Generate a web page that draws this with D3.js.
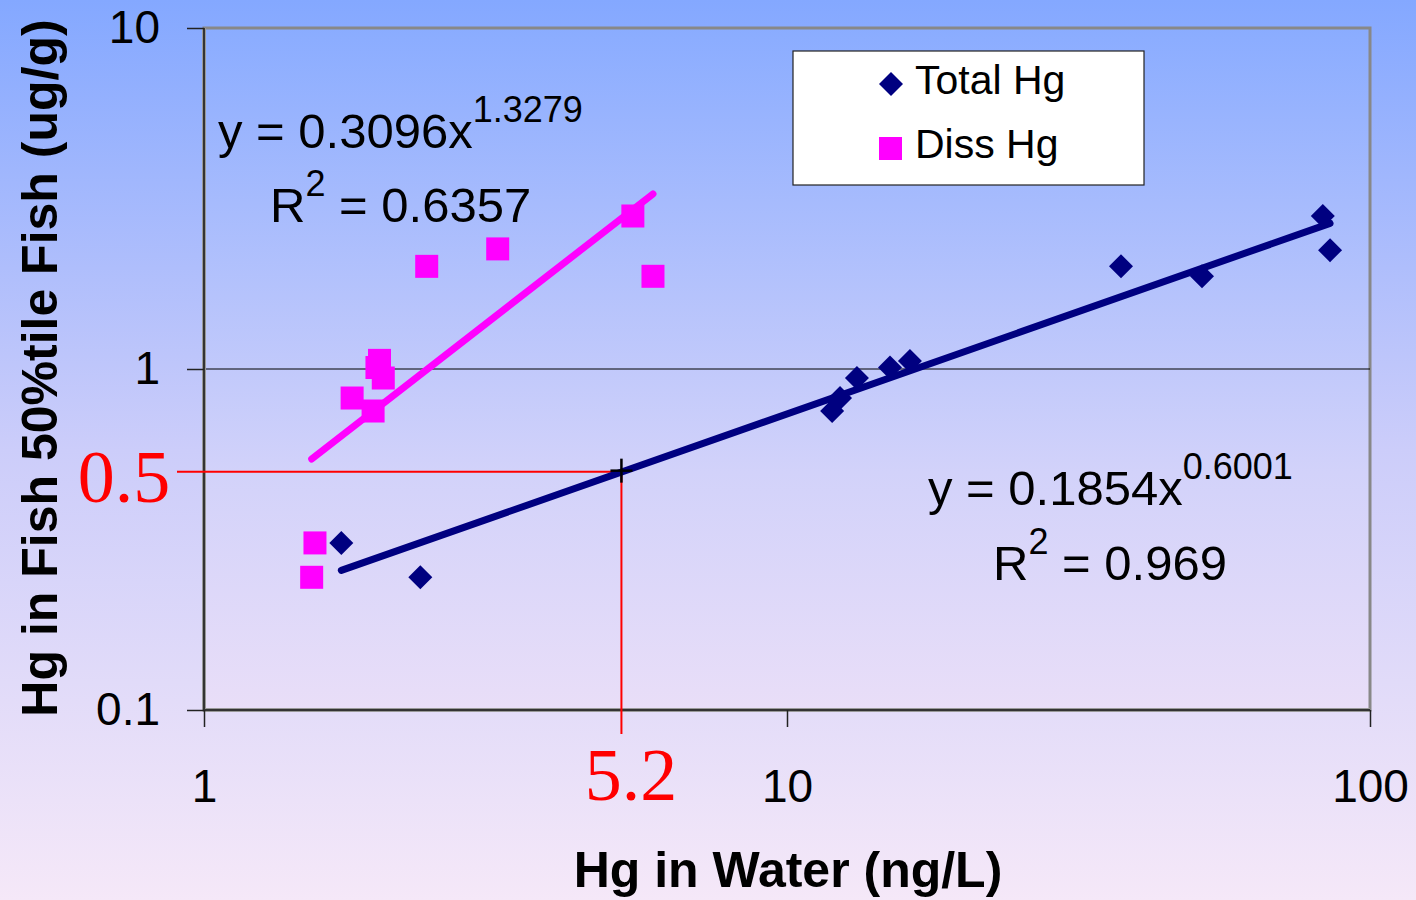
<!DOCTYPE html>
<html><head><meta charset="utf-8">
<script src="https://cdn.jsdelivr.net/npm/d3@7"></script>
<style>html,body{margin:0;padding:0;overflow:hidden;background:#fff}svg{display:block}</style>
</head><body>
<svg id="chart" width="1416" height="900"></svg>
<script>
// ---- data ----
const totalX = [1.72, 2.35, 11.95, 12.33, 13.18, 15.02, 16.25, 37.4, 51.5, 83.0, 85.4];
const totalY = [0.309, 0.245, 0.753, 0.822, 0.941, 1.01, 1.056, 2.0, 1.87, 2.81, 2.23];
const dissX  = [1.55, 1.53, 1.795, 1.95, 1.98, 2.00, 2.03, 2.41, 3.19, 5.44, 5.89];
const dissY  = [0.309, 0.245, 0.822, 0.753, 1.01, 1.06, 0.941, 2.0, 2.25, 2.81, 1.87];
const seriesNames = ["Total Hg", "Diss Hg"];
const fitCoef = [0.1854, 0.3096];
const fitExp  = [0.6001, 1.3279];
const fitR2   = ["0.969", "0.6357"];
const xTicks = [1, 10, 100];
const yTicks = [0.1, 1, 10];
const markX = [5.2];
const markY = [0.5];
const markLabels = ["5.2", "0.5"];

// ---- layout ----
const svg = d3.select("#chart");
const W = 1416, H = 900;
const L = 204, R = 1370, T = 28, B = 710;

const defs = svg.append("defs");
const bg = defs.append("linearGradient").attr("id","bg").attr("x1",0).attr("y1",0).attr("x2",0).attr("y2",1);
bg.append("stop").attr("offset",0).attr("stop-color","#84A8FF");
bg.append("stop").attr("offset",0.5).attr("stop-color","#CCCDFA");
bg.append("stop").attr("offset",1).attr("stop-color","#F5E8F8");
const pg = defs.append("linearGradient").attr("id","pg").attr("x1",0).attr("y1",0).attr("x2",0).attr("y2",1);
pg.append("stop").attr("offset",0).attr("stop-color","#8AACFF");
pg.append("stop").attr("offset",0.65).attr("stop-color","#D2D2FA");
pg.append("stop").attr("offset",1).attr("stop-color","#E9DEF8");

svg.append("rect").attr("width",W).attr("height",H).attr("fill","url(#bg)");

const x = d3.scaleLog().domain([1,100]).range([L,R]);
const y = d3.scaleLog().domain([0.1,10]).range([B,T]);

// plot area
svg.append("rect").attr("x",L).attr("y",T).attr("width",R-L).attr("height",B-T)
  .attr("fill","url(#pg)").attr("stroke","#888").attr("stroke-width",3);

// gridline at 1
svg.append("line").attr("x1",L).attr("x2",R).attr("y1",y(1)).attr("y2",y(1))
  .attr("stroke","#000").attr("stroke-width",1);

// left & bottom axis lines
svg.append("line").attr("x1",L).attr("x2",L).attr("y1",T).attr("y2",B+1).attr("stroke","#999").attr("stroke-width",4);
svg.append("line").attr("x1",L-1).attr("x2",R).attr("y1",B).attr("y2",B).attr("stroke","#999").attr("stroke-width",4);
svg.append("line").attr("x1",L).attr("x2",L).attr("y1",T).attr("y2",B).attr("stroke","#333").attr("stroke-width",2);
svg.append("line").attr("x1",L).attr("x2",R).attr("y1",B).attr("y2",B).attr("stroke","#333").attr("stroke-width",2);

// axes
const ff = "Liberation Sans, Arial, sans-serif";
const fmt = d => String(d);
const yAxis = svg.append("g").attr("transform",`translate(${L},0)`)
  .call(d3.axisLeft(y).tickValues(yTicks).tickFormat(fmt).tickSize(17).tickSizeOuter(0).tickPadding(27));
yAxis.select(".domain").remove();
yAxis.selectAll("line").attr("stroke","#222").attr("stroke-width",1.5);
yAxis.selectAll("text").attr("font-family",ff).attr("font-size",46).attr("fill","#000");

const xAxis = svg.append("g").attr("transform",`translate(0,${B})`)
  .call(d3.axisBottom(x).tickValues(xTicks).tickFormat(fmt).tickSize(17).tickSizeOuter(0).tickPadding(42));
xAxis.select(".domain").remove();
xAxis.selectAll("line").attr("stroke","#222").attr("stroke-width",1.5);
xAxis.selectAll("text").attr("font-family",ff).attr("font-size",46).attr("fill","#000");

// axis titles
svg.append("text").attr("x",788).attr("y",887).attr("text-anchor","middle")
  .attr("font-family",ff).attr("font-weight","bold").attr("font-size",50)
  .text("Hg in Water (ng/L)");
svg.append("text").attr("transform","translate(57,368) rotate(-90)").attr("text-anchor","middle")
  .attr("font-family",ff).attr("font-weight","bold").attr("font-size",50)
  .text("Hg in Fish 50%tile Fish (ug/g)");

// red annotation lines
svg.append("line").attr("x1",177).attr("x2",x(markX[0])).attr("y1",y(markY[0])).attr("y2",y(markY[0]))
  .attr("stroke","#FF0000").attr("stroke-width",2);
svg.append("line").attr("x1",x(markX[0])).attr("x2",x(markX[0])).attr("y1",y(markY[0])).attr("y2",734)
  .attr("stroke","#FF0000").attr("stroke-width",2);
svg.append("text").attr("x",631).attr("y",800).attr("text-anchor","middle")
  .attr("font-family","Liberation Serif, Times New Roman, serif").attr("font-size",74).attr("fill","#FF0000").text(markLabels[0]);
svg.append("text").attr("x",124).attr("y",502).attr("text-anchor","middle")
  .attr("font-family","Liberation Serif, Times New Roman, serif").attr("font-size",74).attr("fill","#FF0000").text(markLabels[1]);

// trendlines
const colors = ["#000080", "#FF00FF"];
const xsets = [totalX, dissX];
const line = d3.line().x(d => x(d[0])).y(d => y(d[1]));
[0,1].forEach(i => {
  const ext = d3.extent(xsets[i]);
  const pts = ext.map(v => [v, fitCoef[i] * Math.pow(v, fitExp[i])]);
  svg.append("path").attr("d", line(pts)).attr("fill","none")
    .attr("stroke", colors[i]).attr("stroke-width",7).attr("stroke-linecap","round");
});

// plus marker
const mg = svg.append("g").attr("transform",`translate(${x(markX[0])},${y(markY[0])})`);
mg.append("line").attr("x1",-11).attr("x2",11).attr("y1",-1).attr("y2",-1).attr("stroke","#000").attr("stroke-width",2.5);
mg.append("line").attr("x1",0).attr("x2",0).attr("y1",-13).attr("y2",11).attr("stroke","#000").attr("stroke-width",2.5);

// markers
const diamond = r => `M0,${-r}L${r},0L0,${r}L${-r},0Z`;
svg.append("g").selectAll("path").data(totalX.map((v,i)=>[v,totalY[i]])).join("path")
  .attr("d", diamond(12)).attr("transform", d => `translate(${x(d[0])},${y(d[1])})`).attr("fill","#000080");
svg.append("g").selectAll("rect").data(dissX.map((v,i)=>[v,dissY[i]])).join("rect")
  .attr("x", d => x(d[0]) - 11.5).attr("y", d => y(d[1]) - 11.5).attr("width",23).attr("height",23).attr("fill","#FF00FF");

// equations
function eq(xp, yp, i) {
  const t = svg.append("text").attr("x",xp).attr("y",yp).attr("font-family",ff).attr("font-size",49).attr("fill","#000");
  t.append("tspan").text(`y = ${fitCoef[i]}x`);
  t.append("tspan").attr("font-size",36).attr("dy",-26).text(fitExp[i].toFixed(4));
}
function r2(xp, yp, i) {
  const t = svg.append("text").attr("x",xp).attr("y",yp).attr("font-family",ff).attr("font-size",49).attr("fill","#000");
  t.append("tspan").text("R");
  t.append("tspan").attr("font-size",36).attr("dy",-26).text("2");
  t.append("tspan").attr("dy",26).text(` = ${fitR2[i]}`);
}
eq(218, 148, 1); r2(270, 222, 1);
eq(928, 505, 0); r2(993, 580, 0);

// legend
const lg = svg.append("g");
lg.append("rect").attr("x",793).attr("y",51).attr("width",351).attr("height",134).attr("fill","#fff").attr("stroke","#222").attr("stroke-width",1.2);
lg.append("path").attr("d", diamond(12)).attr("transform","translate(891,84)").attr("fill","#000080");
lg.append("rect").attr("x",879).attr("y",137).attr("width",23).attr("height",23).attr("fill","#FF00FF");
lg.append("text").attr("x",915).attr("y",94).attr("font-family",ff).attr("font-size",41).text(seriesNames[0]);
lg.append("text").attr("x",915).attr("y",158).attr("font-family",ff).attr("font-size",41).text(seriesNames[1]);
</script>
</body></html>
